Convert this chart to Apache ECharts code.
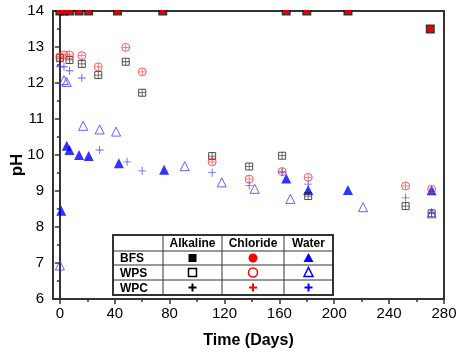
<!DOCTYPE html>
<html>
<head>
<meta charset="utf-8">
<script src="https://cdn.jsdelivr.net/npm/echarts@6/dist/echarts.min.js"></script>
<style>
  html, body { margin: 0; padding: 0; background: #fff; }
  #main { width: 459px; height: 353px; }
</style>
</head>
<body>
<div id="main"></div>
<script>
// ---- data ----
const xLabels = [0, 40, 80, 120, 160, 200, 240, 280];
const xMinorTicks = [20, 60, 100, 140, 180, 220, 260];

const bfsAlkDays = [0, 3, 7, 14, 21, 42, 75, 165, 180, 210, 270];
const bfsAlkPH   = [14, 14, 14, 14, 14, 14, 14, 14, 14, 14, 13.5];
const bfsClDays  = [0, 3, 7, 14, 21, 42, 75, 165, 180, 210, 270];
const bfsClPH    = [14, 14, 14, 14, 14, 14, 14, 14, 14, 14, 13.5];
const bfsWatDays = [1, 5, 7, 14, 21, 43, 76, 165, 181, 210, 271];
const bfsWatPH   = [8.45, 10.26, 10.14, 10.0, 9.97, 9.77, 9.59, 9.35, 9.03, 9.03, 9.02];

const wpsAlkDays = [0, 7, 16, 28, 48, 60, 111, 138, 162, 181, 252, 271];
const wpsAlkPH   = [12.69, 12.64, 12.53, 12.22, 12.59, 11.73, 9.97, 9.68, 9.98, 8.86, 8.58, 8.38];
const wpsClDays  = [0, 3, 7, 16, 28, 48, 60, 111, 138, 162, 181, 252, 271];
const wpsClPH    = [12.73, 12.78, 12.78, 12.76, 12.45, 12.99, 12.31, 9.81, 9.33, 9.54, 9.38, 9.14, 9.05];
const wpsWatDays = [0, 3, 5, 17, 29, 41, 91, 118, 142, 168, 221, 271];
const wpsWatPH   = [6.93, 12.08, 12.03, 10.81, 10.71, 10.65, 9.69, 9.24, 9.06, 8.78, 8.55, 8.38];

const wpcAlkDays = [0, 7, 16, 28, 48, 60, 111, 138, 162, 181, 252, 271];
const wpcAlkPH   = [12.69, 12.64, 12.53, 12.22, 12.59, 11.73, 9.97, 9.68, 9.98, 8.86, 8.58, 8.38];
const wpcClDays  = [0, 3, 7, 16, 28, 48, 60, 111, 138, 162, 181, 252, 271];
const wpcClPH    = [12.73, 12.78, 12.78, 12.76, 12.45, 12.99, 12.31, 9.81, 9.33, 9.54, 9.38, 9.14, 9.05];
const wpcWatDays = [0, 3, 7, 16, 29, 49, 60, 111, 138, 162, 181, 252, 271];
const wpcWatPH   = [12.45, 12.45, 12.34, 12.14, 10.14, 9.81, 9.56, 9.51, 9.15, 9.52, 9.19, 8.81, 8.4];

const tableCols = ['Alkaline', 'Chloride', 'Water'];
const tableRows = ['BFS', 'WPS', 'WPC'];

// ---- styling helpers ----
const FONT = 'Liberation Sans, Arial, sans-serif';
const PLUS = 'path://M4,0h1v9h-1z M0,4h9v1h-9z';
const RED = '#ff0000', BLUE = '#0000ff';
const RED_O = '#ff3030', BLUE_O = '#3a3aff';

function pts(days, vals) {
  return days.map((d, i) => [d, vals[i]]);
}

function sc(name, data, symbol, size, fill, stroke) {
  return {
    name: name,
    type: 'scatter',
    data: data,
    symbol: symbol,
    symbolSize: size,
    silent: true,
    itemStyle: stroke
      ? { color: 'rgba(0,0,0,0)', borderColor: stroke, borderWidth: 1 }
      : { color: fill },
  };
}

const chart = echarts.init(document.getElementById('main'));

// legend table, drawn with graphic elements
const colX = [113, 163, 222, 284, 333];
const rowY = [235, 251, 265, 280, 295];
const table = [];
table.push({
  type: 'rect', z: 50,
  shape: { x: colX[0], y: rowY[0], width: colX[4] - colX[0], height: rowY[4] - rowY[0] },
  style: { fill: '#fff', stroke: '#333', lineWidth: 2 },
});
colX.slice(1, 4).forEach(x => table.push({
  type: 'line', z: 51, shape: { x1: x, y1: rowY[0], x2: x, y2: rowY[4] },
  style: { stroke: '#333', lineWidth: 1 },
}));
rowY.slice(1, 4).forEach(y => table.push({
  type: 'line', z: 51, shape: { x1: colX[0], y1: y, x2: colX[4], y2: y },
  style: { stroke: '#333', lineWidth: 1 },
}));
tableCols.forEach((t, i) => table.push({
  type: 'text', z: 52,
  x: (colX[i + 1] + colX[i + 2]) / 2, y: (rowY[0] + rowY[1]) / 2 + 1,
  style: { text: t, font: 'bold 12px ' + FONT, fill: '#000', align: 'center', verticalAlign: 'middle' },
}));
tableRows.forEach((t, j) => table.push({
  type: 'text', z: 52,
  x: colX[0] + 7, y: (rowY[j + 1] + rowY[j + 2]) / 2 + 1,
  style: { text: t, font: 'bold 12px ' + FONT, fill: '#000', align: 'left', verticalAlign: 'middle' },
}));

const cx = i => (colX[i + 1] + colX[i + 2]) / 2;
const cy = j => (rowY[j + 1] + rowY[j + 2]) / 2;
// BFS row: filled
table.push({ type: 'rect', z: 52, shape: { x: cx(0) - 4, y: cy(0) - 4, width: 8, height: 8 }, style: { fill: '#000' } });
table.push({ type: 'circle', z: 52, shape: { cx: cx(1), cy: cy(0), r: 4.5 }, style: { fill: RED } });
table.push({ type: 'polygon', z: 52, shape: { points: [[cx(2), cy(0) - 5], [cx(2) + 5, cy(0) + 4], [cx(2) - 5, cy(0) + 4]] }, style: { fill: BLUE } });
// WPS row: open
table.push({ type: 'rect', z: 52, shape: { x: cx(0) - 4, y: cy(1) - 4, width: 8, height: 8 }, style: { fill: 'none', stroke: '#000', lineWidth: 1.5 } });
table.push({ type: 'circle', z: 52, shape: { cx: cx(1), cy: cy(1), r: 4.5 }, style: { fill: 'none', stroke: RED, lineWidth: 1.5 } });
table.push({ type: 'polygon', z: 52, shape: { points: [[cx(2), cy(1) - 5], [cx(2) + 4.5, cy(1) + 4], [cx(2) - 4.5, cy(1) + 4]] }, style: { fill: 'none', stroke: BLUE, lineWidth: 1.5 } });
// WPC row: bold plus made of two bars
[['#000', 0], [RED, 1], [BLUE, 2]].forEach(([c, i]) => {
  table.push({ type: 'rect', z: 52, shape: { x: cx(i) - 1, y: cy(2) - 4, width: 2, height: 8 }, style: { fill: c } });
  table.push({ type: 'rect', z: 52, shape: { x: cx(i) - 4, y: cy(2) - 1, width: 8, height: 2 }, style: { fill: c } });
});

// mask hiding the upper half of markers sitting on pH 14
const mask = [
  { type: 'rect', z: 40, shape: { x: 54, y: 0, width: 389, height: 10 }, style: { fill: '#fff' } },
];

const option = {
  animation: false,
  backgroundColor: '#fff',
  grid: {
    left: 53, right: 15, top: 11, bottom: 54,
    containLabel: false, outerBoundsMode: 'none',
    show: true, borderColor: '#333', borderWidth: 2,
  },
  xAxis: [
    {
      type: 'value', min: -5, max: 280, position: 'bottom',
      name: 'Time (Days)', nameLocation: 'middle', nameGap: 34, nameMoveOverlap: false,
      nameTextStyle: { fontFamily: FONT, fontWeight: 'bold', fontSize: 16, color: '#000' },
      axisLine: { show: true, lineStyle: { color: '#333', width: 2 } },
      axisTick: { show: true, customValues: xLabels, length: 5, lineStyle: { color: '#333', width: 1.5 } },
      axisLabel: { customValues: xLabels, fontFamily: FONT, fontSize: 15, color: '#000', margin: 7 },
      splitLine: { show: false },
    },
    {
      type: 'value', min: -5, max: 280, position: 'bottom',
      axisLine: { show: false },
      axisTick: { show: true, customValues: xMinorTicks, length: 3, lineStyle: { color: '#333', width: 1.5 } },
      axisLabel: { show: false },
      splitLine: { show: false },
    },
  ],
  yAxis: {
    type: 'value', min: 6, max: 14, interval: 1,
    name: 'pH', nameLocation: 'middle', nameGap: 27, nameMoveOverlap: false,
    nameTextStyle: { fontFamily: FONT, fontWeight: 'bold', fontSize: 17, color: '#000', padding: [0, 20, 0, 0] },
    axisLine: { show: true, lineStyle: { color: '#333', width: 2 } },
    axisTick: { show: true, length: 5, lineStyle: { color: '#333', width: 1.5 } },
    minorTick: { show: true, splitNumber: 2, length: 3, lineStyle: { color: '#333', width: 1.5 } },
    axisLabel: { fontFamily: FONT, fontSize: 15, color: '#000', margin: 9 },
    splitLine: { show: false },
    minorSplitLine: { show: false },
  },
  series: [
    sc('BFS Alkaline', pts(bfsAlkDays, bfsAlkPH), 'rect', 9, '#000'),
    sc('BFS Chloride', pts(bfsClDays, bfsClPH), 'circle', 7, RED),
    sc('BFS Water', pts(bfsWatDays, bfsWatPH), 'triangle', 10, BLUE),
    sc('WPS Alkaline', pts(wpsAlkDays, wpsAlkPH), 'rect', 7, null, '#222'),
    sc('WPS Chloride', pts(wpsClDays, wpsClPH), 'circle', 8, null, RED_O),
    sc('WPS Water', pts(wpsWatDays, wpsWatPH), 'triangle', 9, null, BLUE_O),
    sc('WPC Alkaline', pts(wpcAlkDays, wpcAlkPH), PLUS, 7, '#222'),
    sc('WPC Chloride', pts(wpcClDays, wpcClPH), PLUS, 7, RED_O),
    sc('WPC Water', pts(wpcWatDays, wpcWatPH), PLUS, 8, BLUE_O),
  ],
  graphic: mask.concat(table),
};

chart.setOption(option);
</script>
</body>
</html>
